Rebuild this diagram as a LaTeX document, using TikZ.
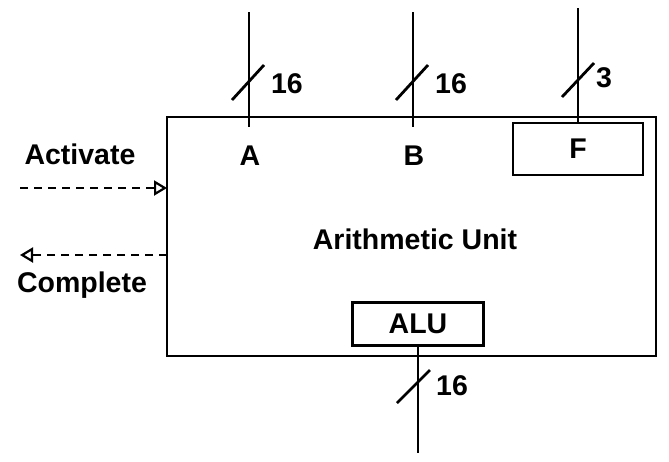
\documentclass[tikz,border=0pt]{standalone}
\usepackage{fontspec}
\setmainfont{Liberation Sans}
\usetikzlibrary{arrows.meta}
\begin{document}
\begin{tikzpicture}[x=1pt,y=-1pt,
  lbl/.style={font=\fontsize{28.5}{32}\selectfont\bfseries, inner sep=0pt},
  boxline/.style={line width=2.4pt},
  bus/.style={line width=2.8pt},
  dashline/.style={line width=2.2pt, dash pattern=on 8pt off 6pt},
  tip/.style={-{Triangle[open,length=13pt,width=15pt,line width=2.2pt]}}]
\useasboundingbox (0,0) rectangle (669,461);
% main box
\draw[boxline] (167,117) rectangle (656,356);
\coordinate (L1) at (167,188);
\coordinate (L2) at (167,255);
% sub boxes
\node[boxline, draw, minimum width=130pt, minimum height=52pt, inner sep=0pt] (F) at (578,149) {};
\node[lbl] at (F.center) {F};
\node[boxline, draw, minimum width=131pt, minimum height=43pt, inner sep=0pt] (ALU) at (418,324) {};
\node[lbl] at (ALU.center) {ALU};
% labels
\node[lbl] (A) at (250,156) {A};
\node[lbl] (B) at (414,156) {B};
\node[lbl] (AU) at (415,239) {Arithmetic Unit};
\node[lbl] (act) at (80,154) {Activate};
\node[lbl] (comp) at (82,285) {Complete};
% buses
\coordinate (Atop) at (249,12);
\coordinate (Abot) at (249,127);
\coordinate (Btop) at (413,12);
\coordinate (Bbot) at (413,127);
\coordinate (Ftop) at (578,8);
\coordinate (Obot) at (418,453);
\draw[bus] (Atop) -- (Abot);
\draw[bus] (Btop) -- (Bbot);
\draw[bus] (Ftop) -- (F.north);
\draw[bus] (ALU.south) -- (Obot);
% slashes
\draw[bus] (232,100) -- (264,65);
\draw[bus] (396,100) -- (428,65);
\draw[bus] (562,97) -- (594,63);
\draw[bus] (397,403) -- (430,370);
\node[lbl] at (287,84) {16};
\node[lbl] at (451,84) {16};
\node[lbl] at (604,78) {3};
\node[lbl] at (452,386) {16};
% activate / complete
\coordinate (actS) at (20,188);
\coordinate (compE) at (20,255);
\draw[dashline, tip] (actS) -- (L1);
\draw[dashline, tip] (L2) -- (compE);
\end{tikzpicture}
\end{document}
